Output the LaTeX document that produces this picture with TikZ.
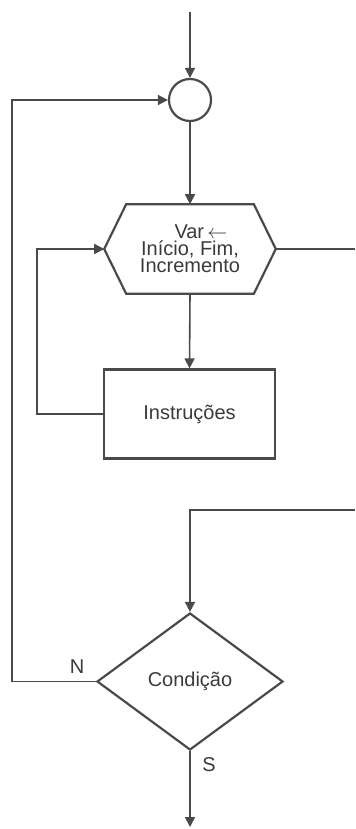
\documentclass[tikz,border=0pt]{standalone}
\usepackage{fontspec}
\setmainfont{Liberation Sans}
\usetikzlibrary{
  positioning,
  arrows.meta,
  shapes.geometric
}
\definecolor{ink}{HTML}{4A4A4A}
\definecolor{txt}{HTML}{3A3A3A}

\begin{document}
\begin{tikzpicture}[
  x=0.5pt, y=-0.5pt, color=ink, line width=0.8pt,
  flow/.style={-{Triangle[length=5pt,width=5pt]}},
  junction/.style={circle, draw, line width=1.1pt, minimum size=21pt, inner sep=0pt},
  loophead/.style={rectangle, minimum width=85pt, minimum height=44pt, inner sep=0pt,
                   align=center, text=txt, font={\fontsize{10pt}{8.5pt}\selectfont}},
  rim/.style={line width=1.1pt, line join=miter},
  stepbox/.style={rectangle, draw, line width=1.1pt, minimum width=85.5pt,
                  minimum height=44.5pt, text=txt, font=\fontsize{10pt}{12pt}\selectfont},
  test/.style={diamond, draw, line width=1.1pt, minimum width=93pt,
               minimum height=68.5pt, inner sep=0pt, text=txt,
               font=\fontsize{10pt}{12pt}\selectfont},
  tag/.style={inner sep=0pt, text=txt, font=\fontsize{10pt}{12pt}\selectfont}
]
  \useasboundingbox (0,0) rectangle (355,829);

  % Shapes
  \node[junction] (join) at (190,100) {};
  \node[loophead] (head) at (190,249) {\hspace*{11pt}Var\,$\leftarrow$\\Início, Fim,\\Incremento};
  \draw[rim] (head.west) -- ([xshift=11pt]head.north west) -- ([xshift=-11pt]head.north east)
    -- (head.east) -- ([xshift=-11pt]head.south east) -- ([xshift=11pt]head.south west) -- cycle;
  \node[stepbox] (body) at (189.5,414) {Instruções};
  \node[test] (cond) at (190,681.5) {Condição};

  % Labels
  \node[tag] (no) at (77,667) {N};
  \node[tag] (yes) at (209,765) {S};

  % Free ends
  \coordinate (start) at (190,12);
  \coordinate (out) at (355,249);
  \coordinate (back) at (355,510);
  \coordinate (stop) at (190,827);

  % Connectors
  \draw[flow] (start) -- (join.north);
  \draw[flow] (join.south) -- (head.north);
  \draw[flow] (head.south) -- (body.north);
  \draw[flow] (body.west) -- (37,414) |- (head.west);
  \draw (head.east) -- (out);
  \draw[flow] (back) -| (cond.north);
  \draw[flow] (cond.west) -- (12,681.5) |- (join.west);
  \draw[flow] (cond.south) -- (stop);
\end{tikzpicture}
\end{document}
